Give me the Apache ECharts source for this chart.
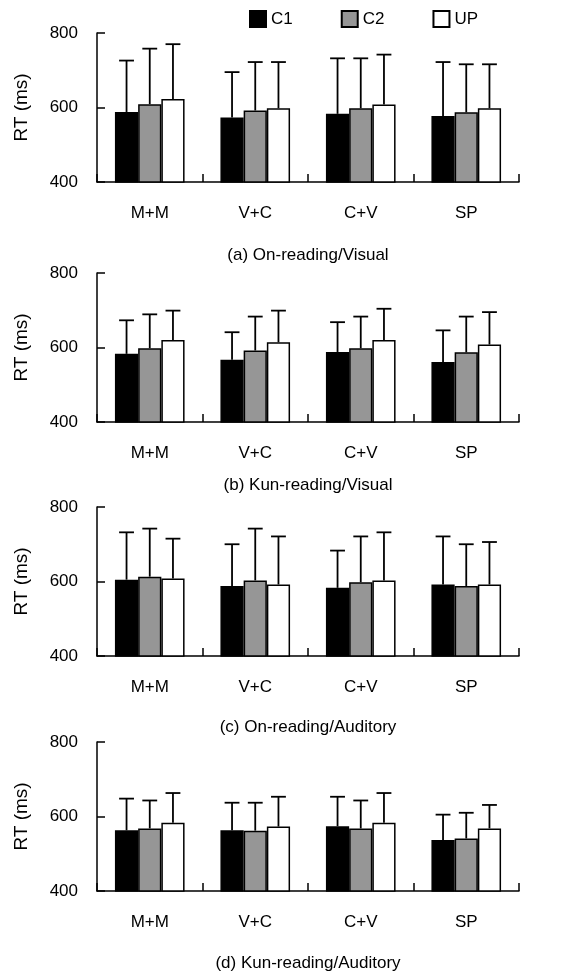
<!DOCTYPE html>
<html>
<head>
<meta charset="utf-8">
<script src="https://cdn.jsdelivr.net/npm/echarts@6/dist/echarts.min.js"></script>
<style>html,body{margin:0;padding:0;background:#fff;}#chart{width:569px;height:977px;}</style>
</head>
<body>
<div id="chart"></div>
<script>
// ---- data ----
const categories = ['M+M', 'V+C', 'C+V', 'SP'];
const seriesNames = ['C1', 'C2', 'UP'];
const yTicks = [400, 600, 800];
const panelCaptions = ['(a) On-reading/Visual', '(b) Kun-reading/Visual', '(c) On-reading/Auditory', '(d) Kun-reading/Auditory'];

// mean RT (bar heights)
const aC1 = [588, 573, 583, 577];
const aC2 = [609, 592, 598, 587];
const aUP = [623, 598, 608, 598];
const bC1 = [583, 567, 588, 561];
const bC2 = [598, 592, 598, 587];
const bUP = [620, 614, 620, 608];
const cC1 = [605, 588, 583, 592];
const cC2 = [613, 603, 598, 588];
const cUP = [608, 592, 603, 592];
const dC1 = [563, 563, 574, 537];
const dC2 = [568, 562, 568, 541];
const dUP = [583, 573, 583, 568];

// upper end of error bars
const aC1Err = [726, 695, 732, 722];
const aC2Err = [758, 722, 732, 716];
const aUPErr = [770, 722, 742, 716];
const bC1Err = [673, 641, 668, 646];
const bC2Err = [689, 683, 683, 683];
const bUPErr = [699, 699, 704, 695];
const cC1Err = [732, 700, 683, 721];
const cC2Err = [742, 742, 721, 700];
const cUPErr = [715, 721, 732, 706];
const dC1Err = [648, 637, 653, 605];
const dC2Err = [643, 637, 643, 610];
const dUPErr = [663, 653, 663, 631];

const panelMeans = [[aC1, aC2, aUP], [bC1, bC2, bUP], [cC1, cC2, cUP], [dC1, dC2, dUP]];
const panelErrs = [[aC1Err, aC2Err, aUPErr], [bC1Err, bC2Err, bUPErr], [cC1Err, cC2Err, cUPErr], [dC1Err, dC2Err, dUPErr]];

// ---- layout / style ----
const FONT = '"Liberation Sans", Arial, sans-serif';
const FS = 17;
const gridTops = [33, 273, 507, 742];
const gridHeight = 149;
const gridLeft = 97;
const gridWidth = 422;
const captionY = [255, 485, 727, 963];
const barColors = ['#000000', '#969696', '#ffffff'];
const CAT_GAP = 0.34;

const chart = echarts.init(document.getElementById('chart'), null, {renderer: 'canvas'});

const grids = [], xAxes = [], yAxes = [], series = [], graphics = [];

gridTops.forEach((top, p) => {
  grids.push({left: gridLeft, top: top, width: gridWidth, height: gridHeight, containLabel: false});
  xAxes.push({
    type: 'category', gridIndex: p, data: categories, boundaryGap: true,
    axisLine: {lineStyle: {color: '#000', width: 1.5}},
    axisTick: {show: true, inside: true, length: 8, lineStyle: {color: '#000', width: 1.5}},
    axisLabel: {color: '#000', fontSize: FS, fontFamily: FONT, margin: 23}
  });
  yAxes.push({
    type: 'value', gridIndex: p, min: yTicks[0], max: yTicks[yTicks.length - 1], interval: 200,
    name: 'RT (ms)', nameLocation: 'middle', nameRotate: 90, nameGap: 66,
    nameTextStyle: {color: '#000', fontSize: 19, fontFamily: FONT},
    axisLine: {show: true, lineStyle: {color: '#000', width: 1.5}},
    axisTick: {show: true, inside: true, length: 8, lineStyle: {color: '#000', width: 1.5}},
    axisLabel: {color: '#000', fontSize: FS, fontFamily: FONT, margin: 19},
    splitLine: {show: false}
  });
  seriesNames.forEach((name, k) => {
    series.push({
      name: name, type: 'bar', xAxisIndex: p, yAxisIndex: p,
      data: panelMeans[p][k],
      barGap: '0%', barCategoryGap: (CAT_GAP * 100) + '%',
      itemStyle: {color: barColors[k], borderColor: '#000', borderWidth: 1.5},
      emphasis: {disabled: true}, animation: false, z: 2
    });
  });
  seriesNames.forEach((name, k) => {
    series.push({
      type: 'custom', xAxisIndex: p, yAxisIndex: p, z: 3, animation: false, silent: true,
      data: categories.map((c, i) => [i, panelMeans[p][k][i], panelErrs[p][k][i]]),
      renderItem: function (params, api) {
        const base = api.coord([api.value(0), api.value(1)]);
        const top = api.coord([api.value(0), api.value(2)]);
        const catW = api.size([1, 0])[0];
        const bw = catW * (1 - CAT_GAP) / 3;
        const cx = base[0] + (k - 1) * bw;
        const cap = bw * 0.32;
        const st = {stroke: '#000', lineWidth: 1.8};
        return {type: 'group', children: [
          {type: 'line', shape: {x1: cx, y1: base[1], x2: cx, y2: top[1]}, style: st},
          {type: 'line', shape: {x1: cx - cap, y1: top[1], x2: cx + cap, y2: top[1]}, style: st}
        ]};
      }
    });
  });
  graphics.push({
    type: 'text', x: gridLeft + gridWidth / 2, y: captionY[p],
    style: {text: panelCaptions[p], fill: '#000', font: FS + 'px ' + FONT, textAlign: 'center', textVerticalAlign: 'middle'}
  });
});

chart.setOption({
  backgroundColor: '#fff',
  animation: false,
  grid: grids, xAxis: xAxes, yAxis: yAxes, series: series, graphic: graphics,
  legend: {
    data: seriesNames, left: 249, top: 10, padding: 0, itemWidth: 16, itemHeight: 16, itemGap: 48,
    icon: 'rect', textStyle: {color: '#000', fontSize: FS, fontFamily: FONT},
    selectedMode: false
  }
});
</script>
</body>
</html>
